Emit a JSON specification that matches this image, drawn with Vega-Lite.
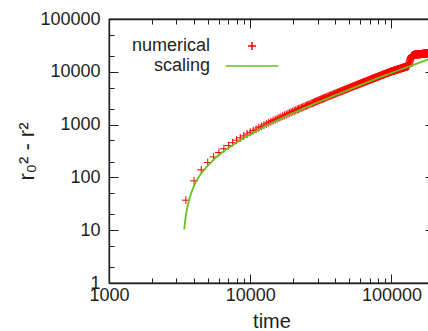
{
"$schema":"https://vega.github.io/schema/vega-lite/v6.json",
"autosize":{"type":"none"},
"padding":{"left":109,"top":19,"right":0,"bottom":48},
"width":325,"height":264,
"config":{"view":{"stroke":"#231f20","strokeWidth":1.3},"font":"Liberation Sans",
"axis":{"grid":false,"domainColor":"#231f20","domainWidth":1.3,"tickColor":"#231f20","tickWidth":1,"labelColor":"#231f20","labelFontSize":18,"titleColor":"#231f20","titleFontWeight":"normal","titleFontSize":20,"labelOverlap":false,"labelFlush":false,"format":"d"}},
"datasets":{
"numerical":[
{"t":3500,"v":37},{"t":4000,"v":86},{"t":4500,"v":139},{"t":5000,"v":191},{"t":5500,"v":244},{"t":6000,"v":296},{"t":6500,"v":349},{"t":7000,"v":401},{"t":7500,"v":454},{"t":8000,"v":506},{"t":8500,"v":559},{"t":9000,"v":611},{"t":9500,"v":664},{"t":10000,"v":716},
{"t":10500,"v":769},{"t":11000,"v":821},{"t":11500,"v":874},{"t":12000,"v":926},{"t":12500,"v":979},{"t":13000,"v":1031},{"t":13500,"v":1084},{"t":14000,"v":1136},{"t":14500,"v":1189},{"t":15000,"v":1241},{"t":15500,"v":1294},{"t":16000,"v":1346},{"t":16500,"v":1399},{"t":17000,"v":1451},{"t":17500,"v":1504},{"t":18000,"v":1556},{"t":18500,"v":1609},{"t":19000,"v":1661},{"t":19500,"v":1714},{"t":20000,"v":1766},
{"t":20500,"v":1819},{"t":21000,"v":1871},{"t":21500,"v":1924},{"t":22000,"v":1976},{"t":22500,"v":2029},{"t":23000,"v":2081},{"t":23500,"v":2134},{"t":24000,"v":2186},{"t":24500,"v":2239},{"t":25000,"v":2291},{"t":25500,"v":2344},{"t":26000,"v":2396},{"t":26500,"v":2449},{"t":27000,"v":2501},{"t":27500,"v":2554},{"t":28000,"v":2606},{"t":28500,"v":2659},{"t":29000,"v":2711},{"t":29500,"v":2764},{"t":30000,"v":2816},
{"t":30500,"v":2869},{"t":31000,"v":2921},{"t":31500,"v":2974},{"t":32000,"v":3026},{"t":32500,"v":3079},{"t":33000,"v":3131},{"t":33500,"v":3184},{"t":34000,"v":3236},{"t":34500,"v":3289},{"t":35000,"v":3341},{"t":35500,"v":3394},{"t":36000,"v":3446},{"t":36500,"v":3499},{"t":37000,"v":3551},{"t":37500,"v":3604},{"t":38000,"v":3656},{"t":38500,"v":3709},{"t":39000,"v":3761},{"t":39500,"v":3814},{"t":40000,"v":3866},
{"t":40500,"v":3919},{"t":41000,"v":3971},{"t":41500,"v":4024},{"t":42000,"v":4076},{"t":42500,"v":4129},{"t":43000,"v":4181},{"t":43500,"v":4234},{"t":44000,"v":4286},{"t":44500,"v":4339},{"t":45000,"v":4391},{"t":45500,"v":4444},{"t":46000,"v":4496},{"t":46500,"v":4549},{"t":47000,"v":4601},{"t":47500,"v":4654},{"t":48000,"v":4706},{"t":48500,"v":4759},{"t":49000,"v":4811},{"t":49500,"v":4864},{"t":50000,"v":4916},
{"t":50500,"v":4969},{"t":51000,"v":5021},{"t":51500,"v":5074},{"t":52000,"v":5126},{"t":52500,"v":5179},{"t":53000,"v":5231},{"t":53500,"v":5284},{"t":54000,"v":5336},{"t":54500,"v":5389},{"t":55000,"v":5441},{"t":55500,"v":5494},{"t":56000,"v":5546},{"t":56500,"v":5599},{"t":57000,"v":5651},{"t":57500,"v":5704},{"t":58000,"v":5756},{"t":58500,"v":5809},{"t":59000,"v":5861},{"t":59500,"v":5914},{"t":60000,"v":5966},
{"t":60500,"v":6019},{"t":61000,"v":6071},{"t":61500,"v":6124},{"t":62000,"v":6176},{"t":62500,"v":6229},{"t":63000,"v":6281},{"t":63500,"v":6334},{"t":64000,"v":6386},{"t":64500,"v":6439},{"t":65000,"v":6491},{"t":65500,"v":6544},{"t":66000,"v":6596},{"t":66500,"v":6649},{"t":67000,"v":6701},{"t":67500,"v":6754},{"t":68000,"v":6806},{"t":68500,"v":6859},{"t":69000,"v":6911},{"t":69500,"v":6964},{"t":70000,"v":7016},
{"t":70500,"v":7069},{"t":71000,"v":7121},{"t":71500,"v":7174},{"t":72000,"v":7226},{"t":72500,"v":7279},{"t":73000,"v":7331},{"t":73500,"v":7384},{"t":74000,"v":7436},{"t":74500,"v":7489},{"t":75000,"v":7541},{"t":75500,"v":7594},{"t":76000,"v":7646},{"t":76500,"v":7699},{"t":77000,"v":7751},{"t":77500,"v":7804},{"t":78000,"v":7856},{"t":78500,"v":7909},{"t":79000,"v":7961},{"t":79500,"v":8014},{"t":80000,"v":8066},
{"t":80500,"v":8119},{"t":81000,"v":8171},{"t":81500,"v":8224},{"t":82000,"v":8276},{"t":82500,"v":8329},{"t":83000,"v":8381},{"t":83500,"v":8434},{"t":84000,"v":8486},{"t":84500,"v":8539},{"t":85000,"v":8591},{"t":85500,"v":8644},{"t":86000,"v":8696},{"t":86500,"v":8749},{"t":87000,"v":8801},{"t":87500,"v":8854},{"t":88000,"v":8906},{"t":88500,"v":8959},{"t":89000,"v":9011},{"t":89500,"v":9064},{"t":90000,"v":9116},
{"t":90500,"v":9169},{"t":91000,"v":9221},{"t":91500,"v":9274},{"t":92000,"v":9326},{"t":92500,"v":9379},{"t":93000,"v":9431},{"t":93500,"v":9484},{"t":94000,"v":9536},{"t":94500,"v":9589},{"t":95000,"v":9641},{"t":95500,"v":9694},{"t":96000,"v":9746},{"t":96500,"v":9799},{"t":97000,"v":9851},{"t":97500,"v":9904},{"t":98000,"v":9956},{"t":98500,"v":10009},{"t":99000,"v":10061},{"t":99500,"v":10114},{"t":100000,"v":10166},
{"t":100500,"v":10209},{"t":101000,"v":10251},{"t":101500,"v":10294},{"t":102000,"v":10337},{"t":102500,"v":10380},{"t":103000,"v":10422},{"t":103500,"v":10465},{"t":104000,"v":10508},{"t":104500,"v":10550},{"t":105000,"v":10593},{"t":105500,"v":10636},{"t":106000,"v":10678},{"t":106500,"v":10721},{"t":107000,"v":10764},{"t":107500,"v":10807},{"t":108000,"v":10849},{"t":108500,"v":10892},{"t":109000,"v":10935},{"t":109500,"v":10977},{"t":110000,"v":11020},
{"t":110500,"v":11063},{"t":111000,"v":11105},{"t":111500,"v":11148},{"t":112000,"v":11191},{"t":112500,"v":11234},{"t":113000,"v":11276},{"t":113500,"v":11319},{"t":114000,"v":11362},{"t":114500,"v":11404},{"t":115000,"v":11447},{"t":115500,"v":11490},{"t":116000,"v":11532},{"t":116500,"v":11575},{"t":117000,"v":11618},{"t":117500,"v":11661},{"t":118000,"v":11703},{"t":118500,"v":11746},{"t":119000,"v":11789},{"t":119500,"v":11831},{"t":120000,"v":11874},
{"t":120500,"v":11917},{"t":121000,"v":11959},{"t":121500,"v":12002},{"t":122000,"v":12045},{"t":122500,"v":12088},{"t":123000,"v":12130},{"t":123500,"v":12173},{"t":124000,"v":12216},{"t":124500,"v":12258},{"t":125000,"v":12301},{"t":125500,"v":12344},{"t":126000,"v":12386},{"t":126500,"v":12429},{"t":127000,"v":12472},{"t":127500,"v":12515},{"t":128000,"v":12557},{"t":128500,"v":12600},{"t":129000,"v":12643},{"t":129500,"v":12685},{"t":130000,"v":12728},
{"t":130500,"v":12771},{"t":131000,"v":12813},{"t":131500,"v":12856},{"t":132000,"v":12899},{"t":132500,"v":13300},{"t":133000,"v":13700},{"t":133500,"v":14200},{"t":134000,"v":14800},{"t":134500,"v":15400},{"t":135000,"v":16000},{"t":135500,"v":16600},{"t":136000,"v":17200},{"t":136500,"v":17700},{"t":137000,"v":18200},{"t":137500,"v":18600},{"t":138000,"v":19000},{"t":138500,"v":19300},{"t":139000,"v":19600},{"t":139500,"v":19850},{"t":140000,"v":20050},
{"t":140500,"v":20200},{"t":141000,"v":20350},{"t":141500,"v":20480},{"t":142000,"v":20600},{"t":142500,"v":20700},{"t":143000,"v":20800},{"t":143500,"v":20880},{"t":144000,"v":20950},{"t":144500,"v":21000},{"t":145000,"v":21050},
{"t":145500,"v":21069},{"t":146000,"v":21088},{"t":146500,"v":21107},{"t":147000,"v":21126},{"t":147500,"v":21145},{"t":148000,"v":21164},{"t":148500,"v":21183},{"t":149000,"v":21202},{"t":149500,"v":21221},{"t":150000,"v":21240},
{"t":150500,"v":21259},{"t":151000,"v":21278},{"t":151500,"v":21297},{"t":152000,"v":21316},{"t":152500,"v":21335},{"t":153000,"v":21354},{"t":153500,"v":21373},{"t":154000,"v":21392},{"t":154500,"v":21411},{"t":155000,"v":21430},
{"t":155500,"v":21449},{"t":156000,"v":21468},{"t":156500,"v":21487},{"t":157000,"v":21506},{"t":157500,"v":21525},{"t":158000,"v":21544},{"t":158500,"v":21563},{"t":159000,"v":21582},{"t":159500,"v":21601},{"t":160000,"v":21620},
{"t":160500,"v":21639},{"t":161000,"v":21658},{"t":161500,"v":21677},{"t":162000,"v":21696},{"t":162500,"v":21715},{"t":163000,"v":21734},{"t":163500,"v":21753},{"t":164000,"v":21772},{"t":164500,"v":21791},{"t":165000,"v":21810},
{"t":165500,"v":21829},{"t":166000,"v":21848},{"t":166500,"v":21867},{"t":167000,"v":21886},{"t":167500,"v":21905},{"t":168000,"v":21924},{"t":168500,"v":21943},{"t":169000,"v":21962},{"t":169500,"v":21981},{"t":170000,"v":22000},
{"t":170500,"v":22019},{"t":171000,"v":22038},{"t":171500,"v":22057},{"t":172000,"v":22076},{"t":172500,"v":22095},{"t":173000,"v":22114},{"t":173500,"v":22133},{"t":174000,"v":22152},{"t":174500,"v":22171},{"t":175000,"v":22190},
{"t":175500,"v":22209},{"t":176000,"v":22228},{"t":176500,"v":22247},{"t":177000,"v":22266},{"t":177500,"v":22285},{"t":178000,"v":22304},{"t":178500,"v":22323},{"t":179000,"v":22342},{"t":179500,"v":22361},{"t":180000,"v":22380},
{"t":180500,"v":22399},{"t":181000,"v":22418},{"t":181500,"v":22437},{"t":182000,"v":22456},{"t":182500,"v":22475},{"t":183000,"v":22494},{"t":183500,"v":22513},{"t":184000,"v":22532},{"t":184500,"v":22551},{"t":185000,"v":22570}
],
"scaling":[
{"t":3410,"v":10.3},{"t":3450,"v":14.1},{"t":3500,"v":18.8},{"t":3550,"v":23.5},{"t":3600,"v":28.5},{"t":3700,"v":38.5},{"t":3800,"v":48.5},{"t":3900,"v":58.5},{"t":4000,"v":70},{"t":4250,"v":95},{"t":4500,"v":119},{"t":5000,"v":168},{"t":5500,"v":217},{"t":6000,"v":266},{"t":7000,"v":362},{"t":8000,"v":458},{"t":9000,"v":553},{"t":10000,"v":649},{"t":12500,"v":900},{"t":15000,"v":1155},{"t":20000,"v":1648},{"t":25000,"v":2142},{"t":30000,"v":2635},{"t":40000,"v":3622},{"t":50000,"v":4609},{"t":60000,"v":5596},{"t":70000,"v":6583},{"t":80000,"v":7570},{"t":90000,"v":8557},{"t":100000,"v":9499},{"t":120000,"v":11409},{"t":140000,"v":13235},{"t":160000,"v":15098},{"t":180000,"v":16942},{"t":200000,"v":18860}
]},
"layer":[
{"data":{"name":"numerical"},
"mark":{"type":"point","filled":false,"strokeWidth":1,"size":64,"opacity":1,"clip":true},
"encoding":{
"x":{"field":"t","type":"quantitative","scale":{"type":"log","domain":[1000,200000],"nice":false},
"axis":{"orient":"bottom","title":"time","values":[1000,2000,3000,4000,5000,6000,7000,8000,9000,10000,20000,30000,40000,50000,60000,70000,80000,90000,100000,200000],
"labelExpr":"indexof([1000,10000,100000], datum.value) >= 0 ? datum.label : ''",
"tickSize":{"condition":{"test":"indexof([1000,10000,100000], datum.value) >= 0","value":-9},"value":-5},
"labelPadding":12,"titlePadding":3}},
"y":{"field":"v","type":"quantitative","scale":{"type":"log","domain":[1,100000],"nice":false},
"axis":{"orient":"left","title":"r₀² - r²","titleFontSize":22,"values":[1,2,5,10,20,50,100,200,500,1000,2000,5000,10000,20000,50000,100000],
"labelExpr":"indexof([1,10,100,1000,10000,100000], datum.value) >= 0 ? datum.label : ''",
"tickSize":{"condition":{"test":"indexof([1,10,100,1000,10000,100000], datum.value) >= 0","value":-9},"value":-5},
"labelPadding":18,"titlePadding":1}},
"color":{"datum":"numerical","scale":{"domain":["numerical","scaling"],"range":["#ff0000","#6cbf1a"]},
"legend":{"orient":"none","legendX":134,"legendY":18,"title":null,"symbolSize":64,"symbolStrokeWidth":1.5,"labelFontSize":18,"labelColor":"#231f20","labelAlign":"right","labelOffset":-51,"rowPadding":2,"padding":0}},
"shape":{"datum":"numerical","scale":{"domain":["numerical","scaling"],"range":["M-1,0L1,0M0,-1L0,1","M-6.6,0L6.6,0"]},
"legend":{"orient":"none","legendX":134,"legendY":18,"title":null,"symbolSize":64,"symbolStrokeWidth":1.5,"labelFontSize":18,"labelColor":"#231f20","labelAlign":"right","labelOffset":-51,"rowPadding":2,"padding":0}}
}},
{"data":{"name":"scaling"},
"mark":{"type":"line","color":"#6cbf1a","strokeWidth":1.8,"clip":true},
"encoding":{
"x":{"field":"t","type":"quantitative","scale":{"type":"log","domain":[1000,200000],"nice":false},
"axis":{"orient":"top","title":null,"labels":false,"values":[1000,2000,3000,4000,5000,6000,7000,8000,9000,10000,20000,30000,40000,50000,60000,70000,80000,90000,100000,200000],
"tickSize":{"condition":{"test":"indexof([1000,10000,100000], datum.value) >= 0","value":-9},"value":-5}}},
"y":{"field":"v","type":"quantitative","scale":{"type":"log","domain":[1,100000],"nice":false},
"axis":{"orient":"right","title":null,"labels":false,"values":[1,2,5,10,20,50,100,200,500,1000,2000,5000,10000,20000,50000,100000],
"tickSize":{"condition":{"test":"indexof([1,10,100,1000,10000,100000], datum.value) >= 0","value":-9},"value":-5}}}
}}
],
"resolve":{"axis":{"x":"independent","y":"independent"}}
}
